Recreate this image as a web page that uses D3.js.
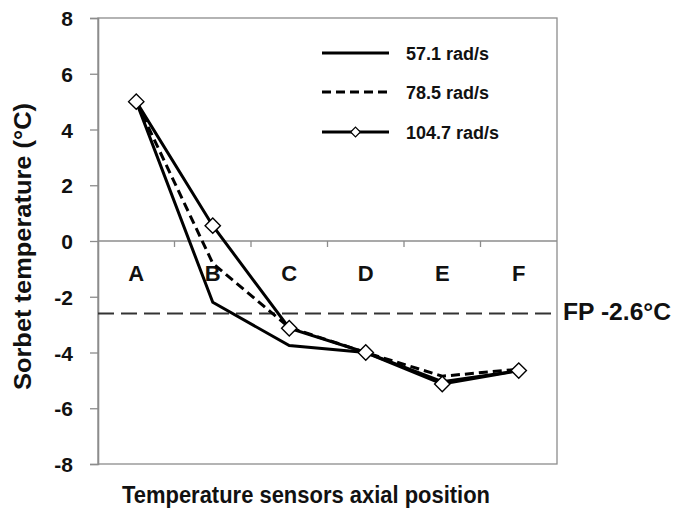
<!DOCTYPE html>
<html>
<head>
<meta charset="utf-8">
<script src="https://cdn.jsdelivr.net/npm/d3@7"></script>
<style>
  html, body { margin: 0; padding: 0; background: #fff; }
  svg { display: block; font-family: Arial, "Liberation Sans", sans-serif; }
</style>
</head>
<body>
<svg id="chart" width="674" height="512"></svg>
<script>
// Sensor positions along the freezer barrel
const positions = ["A", "B", "C", "D", "E", "F"];

// Sorbet temperature (°C) at each sensor, one array per dasher speed
const temp571 = [5.0, -2.2, -3.75, -4.0, -5.05, -4.65];
const temp785 = [5.0, -0.8, -3.1, -4.0, -4.85, -4.6];
const temp1047 = [5.0, 0.55, -3.13, -4.0, -5.13, -4.65];

const seriesNames = ["57.1 rad/s", "78.5 rad/s", "104.7 rad/s"];
const yTicks = [8, 6, 4, 2, 0, -2, -4, -6, -8];
const freezingPoint = -2.6;

const svg = d3.select("#chart");
const plotLeft = 98, plotRight = 557, plotTop = 18, plotBottom = 464;

const x = d3.scaleBand().domain(positions).range([plotLeft, plotRight]).padding(0);
const y = d3.scaleLinear().domain([-8, 8]).range([plotBottom, plotTop]);
const cx = d => x(d) + x.bandwidth() / 2;

const axisColor = "#8c8c8c";
const textColor = "#111";

// Plot frame
svg.append("rect")
  .attr("x", plotLeft).attr("y", plotTop)
  .attr("width", plotRight - plotLeft).attr("height", plotBottom - plotTop)
  .attr("fill", "none").attr("stroke", axisColor).attr("stroke-width", 1.3);

// Y axis with outward ticks (plain hyphen for negatives)
const yAxis = d3.axisLeft(y).tickValues(yTicks).tickSize(8).tickFormat(d => String(d));
const gy = svg.append("g").attr("transform", `translate(${plotLeft},0)`).call(yAxis);
gy.attr("font-family", null);
gy.select(".domain").attr("stroke", axisColor).attr("stroke-width", 1.6);
gy.selectAll(".tick line").attr("stroke", axisColor).attr("stroke-width", 1.3);
gy.selectAll(".tick text")
  .attr("x", -25)
  .attr("dy", "0.36em")
  .attr("fill", textColor)
  .style("font-size", "21px").style("font-weight", "bold");

// Category axis drawn along the zero line, ticks at band boundaries
const zeroY = y(0);
svg.append("line")
  .attr("x1", plotLeft).attr("x2", plotRight).attr("y1", zeroY).attr("y2", zeroY)
  .attr("stroke", axisColor).attr("stroke-width", 1.3);
svg.append("g").selectAll("line")
  .data(positions.slice(1))
  .join("line")
  .attr("x1", d => x(d)).attr("x2", d => x(d))
  .attr("y1", zeroY).attr("y2", zeroY + 6)
  .attr("stroke", axisColor).attr("stroke-width", 1.3);
svg.append("g").selectAll("text")
  .data(positions)
  .join("text")
  .attr("x", d => cx(d)).attr("y", zeroY + 40)
  .attr("text-anchor", "middle")
  .attr("fill", textColor)
  .style("font-size", "22px").style("font-weight", "bold")
  .text(d => d);

// Freezing point reference line
svg.append("line")
  .attr("x1", plotLeft).attr("x2", plotRight)
  .attr("y1", y(freezingPoint)).attr("y2", y(freezingPoint))
  .attr("stroke", "#333").attr("stroke-width", 2)
  .attr("stroke-dasharray", "16,7");
svg.append("text")
  .attr("x", plotRight + 6).attr("y", y(freezingPoint) + 7)
  .attr("fill", textColor)
  .attr("textLength", 108)
  .attr("lengthAdjust", "spacingAndGlyphs")
  .style("font-size", "23px").style("font-weight", "bold")
  .text("FP " + freezingPoint.toFixed(1) + "°C");

// Temperature profiles
const line = d3.line().x((d, i) => cx(positions[i])).y(d => y(d));
const styles = [
  { data: temp571, dash: null, marker: false },
  { data: temp785, dash: "9,5", marker: false },
  { data: temp1047, dash: null, marker: true }
];

styles.forEach(s => {
  svg.append("path")
    .datum(s.data)
    .attr("d", line)
    .attr("fill", "none")
    .attr("stroke", "#000")
    .attr("stroke-width", 3)
    .attr("stroke-linejoin", "miter")
    .attr("stroke-dasharray", s.dash);
});

const diamond = d3.symbol().type(d3.symbolDiamond2).size(150);
svg.append("g").selectAll("path")
  .data(temp1047)
  .join("path")
  .attr("transform", (d, i) => `translate(${cx(positions[i])},${y(d)})`)
  .attr("d", diamond)
  .attr("fill", "#fff").attr("stroke", "#000").attr("stroke-width", 1.4);

// Legend
const legend = svg.append("g");
const legY = [53, 92, 132];
styles.forEach((s, i) => {
  legend.append("line")
    .attr("x1", 322).attr("x2", 389).attr("y1", legY[i]).attr("y2", legY[i])
    .attr("stroke", "#000").attr("stroke-width", 3)
    .attr("stroke-dasharray", s.dash);
  if (s.marker) {
    legend.append("path")
      .attr("transform", `translate(355.5,${legY[i]})`)
      .attr("d", d3.symbol().type(d3.symbolDiamond2).size(60))
      .attr("fill", "#fff").attr("stroke", "#000").attr("stroke-width", 1.2);
  }
  legend.append("text")
    .attr("x", 406).attr("y", legY[i] + 7)
    .attr("fill", textColor)
    .style("font-size", "18px").style("font-weight", "bold")
    .text(seriesNames[i]);
});

// Axis titles
svg.append("text")
  .attr("transform", `translate(31,246.5) rotate(-90)`)
  .attr("text-anchor", "middle")
  .attr("fill", textColor)
  .attr("textLength", 287)
  .attr("lengthAdjust", "spacingAndGlyphs")
  .style("font-size", "23px").style("font-weight", "bold")
  .text("Sorbet temperature (°C)");

svg.append("text")
  .attr("x", 306).attr("y", 503)
  .attr("text-anchor", "middle")
  .attr("fill", textColor)
  .attr("textLength", 368)
  .attr("lengthAdjust", "spacingAndGlyphs")
  .style("font-size", "23px").style("font-weight", "bold")
  .text("Temperature sensors axial position");
</script>
</body>
</html>
